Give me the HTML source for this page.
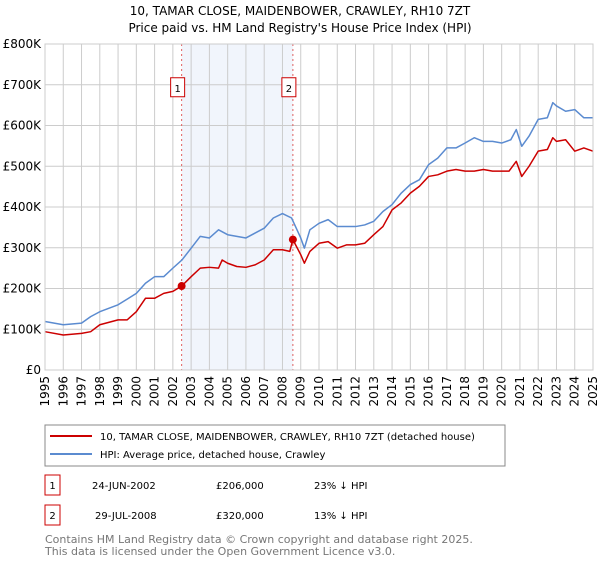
<!DOCTYPE html>
<html><head><meta charset="utf-8"><style>
body{margin:0;background:#fff;font-family:"Liberation Sans","DejaVu Sans",sans-serif;}
svg text{font-family:"DejaVu Sans","Liberation Sans",sans-serif;}
</style></head><body>
<svg id="c" width="600" height="560" xmlns="http://www.w3.org/2000/svg">
<text x="300" y="15" text-anchor="middle" font-size="12">10, TAMAR CLOSE, MAIDENBOWER, CRAWLEY, RH10 7ZT</text>
<text x="300" y="32" text-anchor="middle" font-size="12">Price paid vs. HM Land Registry's House Price Index (HPI)</text>
<g id="grid"></g><g id="series"></g><g id="axes"></g>
<rect x="45" y="425" width="460" height="41" fill="#fff" stroke="#888"/>
<line x1="50" y1="436" x2="92" y2="436" stroke="#cc0000" stroke-width="2"/>
<text x="100" y="440" font-size="10">10, TAMAR CLOSE, MAIDENBOWER, CRAWLEY, RH10 7ZT (detached house)</text>
<line x1="50" y1="454" x2="92" y2="454" stroke="#5b8bd0" stroke-width="2"/>
<text x="100" y="458" font-size="10">HPI: Average price, detached house, Crawley</text>
<rect x="45" y="475" width="15" height="20" fill="#fff" stroke="#cc0000"/>
<text x="52.5" y="489" font-size="10" text-anchor="middle">1</text>
<text x="92" y="489" font-size="10">24-JUN-2002</text>
<text x="216" y="489" font-size="10">£206,000</text>
<text x="314" y="489" font-size="10">23% ↓ HPI</text>
<rect x="45" y="505" width="15" height="20" fill="#fff" stroke="#cc0000"/>
<text x="52.5" y="519" font-size="10" text-anchor="middle">2</text>
<text x="95" y="519" font-size="10">29-JUL-2008</text>
<text x="216" y="519" font-size="10">£320,000</text>
<text x="314" y="519" font-size="10">13% ↓ HPI</text>
<text x="45" y="543" font-size="11" fill="#777">Contains HM Land Registry data © Crown copyright and database right 2025.</text>
<text x="45" y="555" font-size="11" fill="#777">This data is licensed under the Open Government Licence v3.0.</text>
</svg>
<script>
const hpiYears=[1995,1996,1997,1997.5,1998,1999,2000,2000.5,2001,2001.5,2002,2002.5,2003,2003.5,2004,2004.5,2005,2005.5,2006,2006.5,2007,2007.5,2008,2008.5,2009,2009.2,2009.5,2010,2010.5,2011,2011.5,2012,2012.5,2013,2013.5,2014,2014.5,2015,2015.5,2016,2016.5,2017,2017.5,2018,2018.5,2019,2019.5,2020,2020.5,2020.8,2021.1,2021.5,2022,2022.5,2022.8,2023,2023.5,2024,2024.5,2025];
const hpiValues=[119,111,115,131,143,160,188,213,229,229,250,270,299,328,324,344,332,328,324,336,348,373,384,373,324,299,344,360,369,352,352,352,356,365,389,406,434,455,467,504,520,545,545,557,570,561,561,557,565,590,549,574,615,619,656,648,635,639,619,619];
const propYears=[1995,1996,1997,1997.5,1998,1999,1999.5,2000,2000.5,2001,2001.5,2002,2002.48,2003,2003.5,2004,2004.5,2004.7,2005,2005.5,2006,2006.5,2007,2007.5,2008,2008.4,2008.57,2009,2009.2,2009.5,2010,2010.5,2011,2011.5,2012,2012.5,2013,2013.5,2014,2014.5,2015,2015.5,2016,2016.5,2017,2017.5,2018,2018.5,2019,2019.5,2020.4,2020.8,2021.1,2021.5,2022,2022.5,2022.8,2023,2023.5,2024,2024.5,2025];
const propValues=[94,86,90,94,111,123,123,143,176,176,188,193,206,229,250,252,250,270,262,254,252,258,270,295,295,291,320,283,262,291,311,315,299,307,307,311,332,352,393,410,434,451,475,479,488,492,488,488,492,488,488,512,475,500,537,541,570,561,565,537,545,537];
const saleYears=[2002.48,2008.57];
const saleValues=[206,320];
const saleLabels=["1","2"];
const yTicks=[0,100,200,300,400,500,600,700,800];
const xTicks=[1995,1996,1997,1998,1999,2000,2001,2002,2003,2004,2005,2006,2007,2008,2009,2010,2011,2012,2013,2014,2015,2016,2017,2018,2019,2020,2021,2022,2023,2024,2025];
const NS="http://www.w3.org/2000/svg";
const X0=45,X1=593,Y0=370,Y1=44;
const xs=y=>X0+(y-1995)/30*(X1-X0);
const ys=v=>Y0-v/800*(Y0-Y1);
function mk(tag,attrs,parent){const e=document.createElementNS(NS,tag);for(const k in attrs)e.setAttribute(k,attrs[k]);parent.appendChild(e);return e;}
const grid=document.getElementById('grid'),ser=document.getElementById('series'),ax=document.getElementById('axes');
let sh=mk('rect',{x:xs(saleYears[0]),y:Y1,width:xs(saleYears[1])-xs(saleYears[0]),height:Y0-Y1,fill:'#eef2fb',opacity:0.8},grid);


yTicks.forEach(v=>{
  let l=mk('line',{x1:X0,x2:X1,y1:ys(v),y2:ys(v),stroke:'#ccc'},grid);
  
  
  let t=mk('text',{x:X0-4,y:ys(v)+4,'text-anchor':'end','font-size':12},ax);
  t.textContent=v===0?'£0':'£'+v+'K';
  
  
});
xTicks.forEach(yr=>{
  let l=mk('line',{x1:xs(yr),x2:xs(yr),y1:Y1,y2:Y0,stroke:'#ccc'},grid);
  
  
  let t=mk('text',{x:0,y:0,'font-size':12,'text-anchor':'end',transform:`translate(${xs(yr)+4},${Y0+6}) rotate(-90)`},ax);
  t.textContent=yr;
  
  
});
saleYears.forEach((yr,i)=>{
  let l=mk('line',{x1:xs(yr),x2:xs(yr),y1:Y1,y2:Y0,stroke:'#e06060','stroke-dasharray':'2,3'},ser);
  
  
  let b=mk('rect',{x:xs(yr)-11,y:ys(700)-7,width:14,height:19,fill:'#fff',stroke:'#cc0000'},ser);
  
  
  let t=mk('text',{x:xs(yr)-4,y:ys(700)+7,'font-size':10,'text-anchor':'middle'},ser);
  t.textContent=saleLabels[i];
  
  
});
function line(xa,va,col,name){
  let p=mk('polyline',{points:xa.map((x,i)=>xs(x)+','+ys(va[i])).join(' '),fill:'none',stroke:col,'stroke-width':1.5,'stroke-linejoin':'round'},ser);
  
  
}
line(hpiYears,hpiValues,'#5b8bd0','hpi-line');
line(propYears,propValues,'#cc0000','property-line');
saleYears.forEach((yr,i)=>{
  let c=mk('circle',{cx:xs(yr),cy:ys(saleValues[i]),r:4,fill:'#cc0000'},ser);
  
  
});
mk('rect',{x:X0,y:Y1,width:X1-X0,height:Y0-Y1,fill:'none',stroke:'#ccc'},ax);
</script>
</body></html>
